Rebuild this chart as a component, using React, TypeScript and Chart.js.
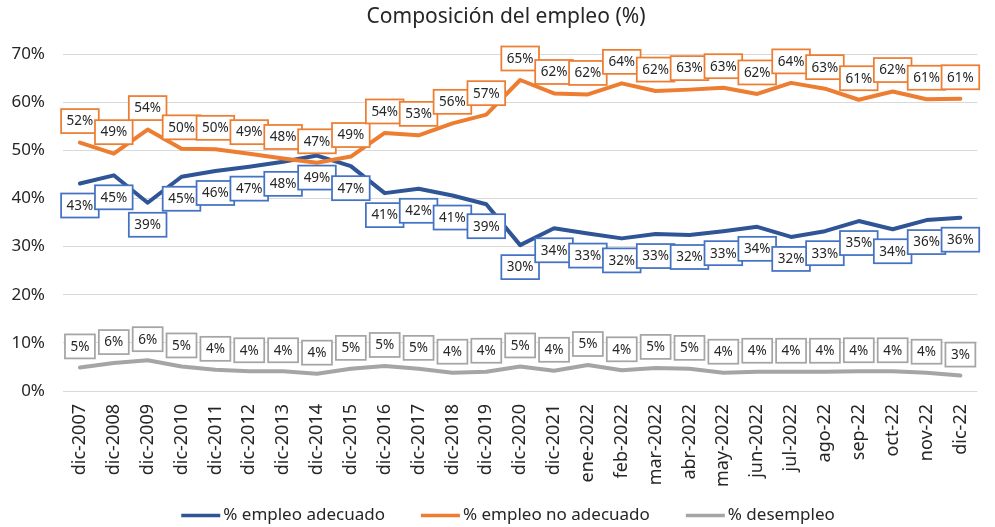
import React, { useEffect, useRef } from "react";
import { Chart, registerables } from "chart.js";

Chart.register(...registerables);

const categories = [
  "dic-2007", "dic-2008", "dic-2009", "dic-2010", "dic-2011", "dic-2012", "dic-2013",
  "dic-2014", "dic-2015", "dic-2016", "dic-2017", "dic-2018", "dic-2019", "dic-2020",
  "dic-2021", "ene-2022", "feb-2022", "mar-2022", "abr-2022", "may-2022", "jun-2022",
  "jul-2022", "ago-22", "sep-22", "oct-22", "nov-22", "dic-22",
];

const empleoAdecuado = [
  43.1, 44.8, 39.1, 44.5, 45.7, 46.6, 47.6, 48.9, 46.7, 41.1, 42.0, 40.6, 38.8, 30.3,
  33.8, 32.7, 31.7, 32.6, 32.4, 33.2, 34.1, 32.0, 33.2, 35.3, 33.6, 35.5, 36.0,
];

const empleoNoAdecuado = [
  51.6, 49.3, 54.3, 50.3, 50.2, 49.3, 48.3, 47.4, 48.7, 53.6, 53.1, 55.6, 57.4, 64.6,
  61.8, 61.6, 63.9, 62.3, 62.6, 63.0, 61.7, 64.0, 62.8, 60.5, 62.2, 60.6, 60.7,
];

const desempleo = [
  4.9, 5.8, 6.4, 5.1, 4.4, 4.1, 4.1, 3.6, 4.6, 5.2, 4.6, 3.8, 4.0, 5.1,
  4.2, 5.4, 4.3, 4.8, 4.6, 3.8, 4.0, 4.0, 4.0, 4.1, 4.1, 3.8, 3.2,
];

const yTicks = [0, 10, 20, 30, 40, 50, 60, 70];

const chartTitle = "Composición del empleo (%)";
const seriesNames = ["% empleo adecuado", "% empleo no adecuado", "% desempleo"];
const lineColors = ["#2F5597", "#ED7D31", "#A5A5A5"];
const labelBorderColors = ["#4472C4", "#ED7D31", "#A5A5A5"];
const labelOffsets = [22, -21.5, -21];

const FONT = "'Noto Sans', 'DejaVu Sans', sans-serif";
const TEXT = "#262626";

const dataLabelPlugin = {
  id: "boxLabels",
  afterDatasetsDraw(chart: any) {
    const ctx = chart.ctx;
    ctx.save();
    ctx.font = `13.5px ${FONT}`;
    ctx.textAlign = "center";
    ctx.textBaseline = "middle";
    chart.data.datasets.forEach((ds: any, di: number) => {
      const meta = chart.getDatasetMeta(di);
      meta.data.forEach((pt: any, i: number) => {
        const txt = Math.round(ds.data[i]) + "%";
        const w = ctx.measureText(txt).width + 11;
        const h = 24;
        const cx = pt.x;
        const cy = pt.y + labelOffsets[di];
        ctx.fillStyle = "#ffffff";
        ctx.fillRect(cx - w / 2, cy - h / 2, w, h);
        ctx.lineWidth = 1.75;
        ctx.strokeStyle = labelBorderColors[di];
        ctx.strokeRect(cx - w / 2, cy - h / 2, w, h);
        ctx.fillStyle = TEXT;
        ctx.fillText(txt, cx, cy + 0.5);
      });
    });
    ctx.restore();
  },
};

const titleLegendPlugin = {
  id: "titleLegend",
  afterDraw(chart: any) {
    const ctx = chart.ctx;
    ctx.save();
    // title
    ctx.font = `21px ${FONT}`;
    ctx.textAlign = "center";
    ctx.textBaseline = "middle";
    ctx.fillStyle = TEXT;
    ctx.fillText(chartTitle, 506, 17);
    // legend
    ctx.font = `17px ${FONT}`;
    ctx.textAlign = "left";
    const lineLen = 39;
    const gapText = 3;
    const gapItems = 36;
    const widths = seriesNames.map((n) => lineLen + gapText + ctx.measureText(n).width);
    const total = widths.reduce((a, b) => a + b, 0) + gapItems * (seriesNames.length - 1);
    let x = 508 - total / 2;
    const y = 515;
    seriesNames.forEach((n, i) => {
      ctx.strokeStyle = lineColors[i];
      ctx.lineWidth = 3.5;
      ctx.beginPath();
      ctx.moveTo(x, y + 0.5);
      ctx.lineTo(x + lineLen, y + 0.5);
      ctx.stroke();
      ctx.fillStyle = TEXT;
      ctx.fillText(n, x + lineLen + gapText, y);
      x += widths[i] + gapItems;
    });
    ctx.restore();
  },
};

export default function App() {
  const ref = useRef<HTMLCanvasElement>(null);

  useEffect(() => {
    if (!ref.current) return;
    const series = [empleoAdecuado, empleoNoAdecuado, desempleo];
    const chart = new Chart(ref.current, {
      type: "line",
      data: {
        labels: categories,
        datasets: series.map((d, i) => ({
          label: seriesNames[i],
          data: d,
          borderColor: lineColors[i],
          backgroundColor: lineColors[i],
          borderWidth: 4,
          pointRadius: 0,
          tension: 0,
          fill: false,
          borderJoinStyle: "round" as const,
          borderCapStyle: "round" as const,
          order: 2 - i,
        })),
      },
      options: {
        responsive: false,
        animation: false,
        layout: { padding: { top: 54, left: 0, right: 0, bottom: 40 } },
        plugins: {
          legend: { display: false },
          tooltip: { enabled: false },
          title: { display: false },
        },
        scales: {
          x: {
            offset: true,
            grid: { display: false, drawTicks: false },
            border: { display: false },
            ticks: {
              color: TEXT,
              font: { family: FONT, size: 18 },
              maxRotation: 90,
              minRotation: 90,
              padding: 13,
              autoSkip: false,
            },
            afterFit(scale: any) {
              scale.height = 96;
            },
          },
          y: {
            min: yTicks[0],
            max: yTicks[yTicks.length - 1],
            afterBuildTicks(scale: any) {
              scale.ticks = yTicks.map((v) => ({ value: v }));
            },
            grid: { color: "#D9D9D9", lineWidth: 1, drawTicks: false },
            border: { display: false },
            ticks: {
              color: TEXT,
              font: { family: FONT, size: 17 },
              padding: 18,
              callback: (v: any) => v + "%",
            },
            afterFit(scale: any) {
              scale.width = 63;
            },
          },
        },
      },
      plugins: [dataLabelPlugin, titleLegendPlugin],
    });
    return () => chart.destroy();
  }, []);

  return (
    <div style={{ position: "absolute", left: 0, top: 0, width: 995, height: 527, background: "#fff" }}>
      <canvas ref={ref} width={995} height={527} style={{ display: "block" }} />
    </div>
  );
}
